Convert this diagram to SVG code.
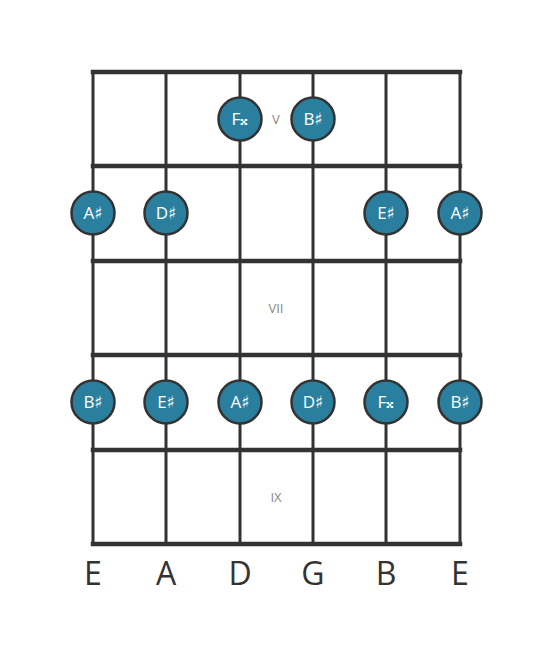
<svg xmlns="http://www.w3.org/2000/svg" width="553" height="656" viewBox="0 0 553 656">
<style>
.fret{stroke:#333;stroke-width:4.5;stroke-linecap:square}
.str{stroke:#333;stroke-width:3}
.dot circle{fill:#2a7f9e;stroke:#333;stroke-width:2.5}
.dot text{fill:#fff;font-family:"Open Sans","DejaVu Sans",sans-serif;font-size:17px;text-anchor:middle}
.fn{fill:#888;font-family:"Open Sans",sans-serif;font-size:13px;text-anchor:middle}
.sn{fill:#333;font-family:"Open Sans",sans-serif;font-size:32px;text-anchor:middle}
</style>
<rect width="553" height="656" fill="#fff"/>
<g id="connectors">
<line class="str" x1="93" y1="72" x2="93" y2="544"/>
<line class="str" x1="166" y1="72" x2="166" y2="544"/>
<line class="str" x1="240" y1="72" x2="240" y2="544"/>
<line class="str" x1="313" y1="72" x2="313" y2="544"/>
<line class="str" x1="386" y1="72" x2="386" y2="544"/>
<line class="str" x1="460" y1="72" x2="460" y2="544"/>
<line class="fret" x1="93" y1="72" x2="460" y2="72"/>
<line class="fret" x1="93" y1="166" x2="460" y2="166"/>
<line class="fret" x1="93" y1="261" x2="460" y2="261"/>
<line class="fret" x1="93" y1="355" x2="460" y2="355"/>
<line class="fret" x1="93" y1="450" x2="460" y2="450"/>
<line class="fret" x1="93" y1="544" x2="460" y2="544"/>
</g>
<g id="fretnums">
<text class="fn" x="276" y="124">V</text>
<text class="fn" x="276" y="313">VII</text>
<text class="fn" x="276" y="502">IX</text>
</g>
<g id="n1" class="dot"><circle cx="240" cy="119" r="21.5"/><text x="240" y="125">F𝄪</text></g>
<g id="n2" class="dot"><circle cx="313" cy="119" r="21.5"/><text x="313" y="125">B♯</text></g>
<g id="n3" class="dot"><circle cx="93" cy="213" r="21.5"/><text x="93" y="219">A♯</text></g>
<g id="n4" class="dot"><circle cx="166" cy="213" r="21.5"/><text x="166" y="219">D♯</text></g>
<g id="n5" class="dot"><circle cx="386" cy="213" r="21.5"/><text x="386" y="219">E♯</text></g>
<g id="n6" class="dot"><circle cx="460" cy="213" r="21.5"/><text x="460" y="219">A♯</text></g>
<g id="n7" class="dot"><circle cx="93" cy="402" r="21.5"/><text x="93" y="408">B♯</text></g>
<g id="n8" class="dot"><circle cx="166" cy="402" r="21.5"/><text x="166" y="408">E♯</text></g>
<g id="n9" class="dot"><circle cx="240" cy="402" r="21.5"/><text x="240" y="408">A♯</text></g>
<g id="n10" class="dot"><circle cx="313" cy="402" r="21.5"/><text x="313" y="408">D♯</text></g>
<g id="n11" class="dot"><circle cx="386" cy="402" r="21.5"/><text x="386" y="408">F𝄪</text></g>
<g id="n12" class="dot"><circle cx="460" cy="402" r="21.5"/><text x="460" y="408">B♯</text></g>
<g id="strnames">
<text class="sn" x="93" y="585">E</text>
<text class="sn" x="166" y="585">A</text>
<text class="sn" x="240" y="585">D</text>
<text class="sn" x="313" y="585">G</text>
<text class="sn" x="386" y="585">B</text>
<text class="sn" x="460" y="585">E</text>
</g>
</svg>
